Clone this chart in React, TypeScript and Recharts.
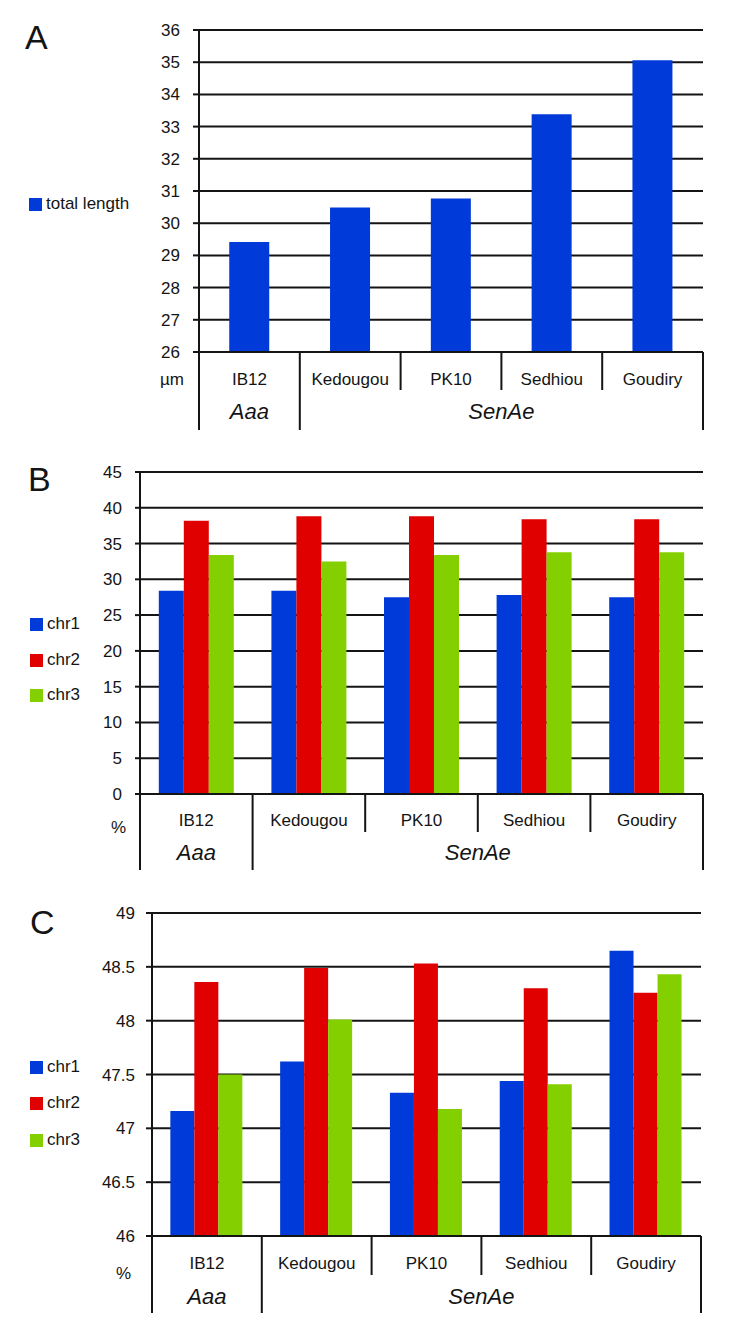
import React from 'react';
import { BarChart, Bar, XAxis, YAxis, CartesianGrid } from 'recharts';

const categories = ['IB12', 'Kedougou', 'PK10', 'Sedhiou', 'Goudiry'];
const groupLabels = ['Aaa', 'SenAe'];
const groupSizes = [1, 4];

const totalLength = [29.42, 30.49, 30.77, 33.38, 35.06];

const pctChr1 = [28.4, 28.4, 27.5, 27.8, 27.5];
const pctChr2 = [38.2, 38.8, 38.8, 38.4, 38.4];
const pctChr3 = [33.4, 32.5, 33.4, 33.8, 33.8];

const gcChr1 = [47.16, 47.62, 47.33, 47.44, 48.65];
const gcChr2 = [48.36, 48.49, 48.53, 48.3, 48.26];
const gcChr3 = [47.5, 48.01, 47.18, 47.41, 48.43];

const ticksA = [26, 27, 28, 29, 30, 31, 32, 33, 34, 35, 36];
const ticksB = [0, 5, 10, 15, 20, 25, 30, 35, 40, 45];
const ticksC = [46, 46.5, 47, 47.5, 48, 48.5, 49];

const seriesNames = ['chr1', 'chr2', 'chr3'];
const BLUE = '#003AD8';
const RED = '#E00000';
const GREEN = '#84CF00';
const INK = '#141414';
const FONT = "'Liberation Sans', Arial, Helvetica, sans-serif";

const dataA = categories.map((c, i) => ({ name: c, total: totalLength[i] }));
const dataB = categories.map((c, i) => ({ name: c, chr1: pctChr1[i], chr2: pctChr2[i], chr3: pctChr3[i] }));
const dataC = categories.map((c, i) => ({ name: c, chr1: gcChr1[i], chr2: gcChr2[i], chr3: gcChr3[i] }));

type TableCfg = {
  unit: string;
  unitDx: number;
  unitDy: number;
  labelDy: number;
  groupDy: number;
  shortH: number;
  fullH: number;
  plotW: number;
};

function makeTableTick(cfg: TableCfg) {
  return (props: any) => {
    const { x, y, payload, index, width, visibleTicksCount } = props;
    const n = visibleTicksCount || categories.length;
    const w = typeof width === 'number' && width > 0 ? width : cfg.plotW;
    const half = w / n / 2;
    const i = payload && typeof payload.index === 'number' ? payload.index : index;
    const starts: number[] = [];
    let acc = 0;
    groupSizes.forEach((s) => {
      starts.push(acc);
      acc += s;
    });
    const gIdx = starts.indexOf(i);
    const isGroupStart = gIdx >= 0;
    const isLast = i === n - 1;
    const lineStyle = { stroke: INK, strokeWidth: 2 };
    return (
      <g>
        <line x1={x - half} x2={x - half} y1={y} y2={y + (isGroupStart ? cfg.fullH : cfg.shortH)} {...lineStyle} />
        {isLast && <line x1={x + half} x2={x + half} y1={y} y2={y + cfg.fullH} {...lineStyle} />}
        <text x={x} y={y + cfg.labelDy} textAnchor="middle" dominantBaseline="central" fill={INK} fontSize={17} fontFamily={FONT}>
          {payload.value}
        </text>
        {isGroupStart && (
          <text
            x={x - half + groupSizes[gIdx] * half}
            y={y + cfg.groupDy}
            textAnchor="middle"
            dominantBaseline="central"
            fill={INK}
            fontSize={22}
            fontStyle="italic"
            fontFamily={FONT}
          >
            {groupLabels[gIdx]}
          </text>
        )}
        {i === 0 && (
          <text x={x - half - cfg.unitDx} y={y + cfg.unitDy} textAnchor="end" dominantBaseline="central" fill={INK} fontSize={17} fontFamily={FONT}>
            {cfg.unit}
          </text>
        )}
      </g>
    );
  };
}

function LegendBox({ items, left, tops }: { items: { label: string; color: string }[]; left: number; tops: number[] }) {
  return (
    <>
      {items.map((it, k) => (
        <div key={it.label} style={{ position: 'absolute', left, top: tops[k], display: 'flex', alignItems: 'center', height: 14 }}>
          <div style={{ width: 13, height: 13, background: it.color, marginRight: 4 }} />
          <span style={{ fontSize: 17, color: INK, fontFamily: FONT, lineHeight: '14px' }}>{it.label}</span>
        </div>
      ))}
    </>
  );
}

function PanelLetter({ ch, left, top }: { ch: string; left: number; top: number }) {
  return (
    <div style={{ position: 'absolute', left, top, fontSize: 34, lineHeight: '34px', color: INK, fontFamily: FONT }}>{ch}</div>
  );
}

const gridProps = { vertical: false, stroke: INK, strokeWidth: 2 };

export default function App() {
  return (
    <div style={{ position: 'absolute', left: 0, top: 0, width: 733, height: 1327, background: '#fff', fontFamily: FONT, overflow: 'hidden' }}>
      {/* Panel A */}
      <div style={{ position: 'absolute', left: 0, top: 0, width: 733, height: 440 }}>
        <BarChart width={733} height={440} data={dataA} margin={{ top: 30, right: 30, bottom: 8, left: 0 }} barCategoryGap="30%">
          <CartesianGrid {...gridProps} />
          <YAxis
            width={199}
            domain={[26, 36]}
            ticks={ticksA}
            interval={0}
            tickSize={6}
            tickMargin={13}
            axisLine={{ stroke: INK, strokeWidth: 2 }}
            tickLine={{ stroke: INK, strokeWidth: 2 }}
            tick={{ fill: INK, fontSize: 17, fontFamily: FONT }}
          />
          <XAxis
            dataKey="name"
            height={80}
            interval={0}
            tickSize={0}
            tickMargin={0}
            tickLine={false}
            axisLine={{ stroke: INK, strokeWidth: 2 }}
            tick={makeTableTick({ unit: 'µm', unitDx: 15, unitDy: 27, labelDy: 27, groupDy: 59, shortH: 38, fullH: 78, plotW: 504 })}
          />
          <Bar dataKey="total" name="total length" fill={BLUE} isAnimationActive={false} />
        </BarChart>
        <PanelLetter ch="A" left={25} top={20} />
        <LegendBox items={[{ label: 'total length', color: BLUE }]} left={29} tops={[197]} />
      </div>

      {/* Panel B */}
      <div style={{ position: 'absolute', left: 0, top: 440, width: 733, height: 440 }}>
        <BarChart width={733} height={440} data={dataB} margin={{ top: 32, right: 30, bottom: 6, left: 0 }} barCategoryGap="16.7%" barGap={0}>
          <CartesianGrid {...gridProps} />
          <YAxis
            width={140}
            domain={[0, 45]}
            ticks={ticksB}
            interval={0}
            tickSize={5}
            tickMargin={13}
            axisLine={{ stroke: INK, strokeWidth: 2 }}
            tickLine={{ stroke: INK, strokeWidth: 2 }}
            tick={{ fill: INK, fontSize: 17, fontFamily: FONT }}
          />
          <XAxis
            dataKey="name"
            height={80}
            interval={0}
            tickSize={0}
            tickMargin={0}
            tickLine={false}
            axisLine={{ stroke: INK, strokeWidth: 2 }}
            tick={makeTableTick({ unit: '%', unitDx: 14, unitDy: 33, labelDy: 26, groupDy: 58, shortH: 38, fullH: 76, plotW: 563 })}
          />
          <Bar dataKey="chr1" name={seriesNames[0]} fill={BLUE} isAnimationActive={false} />
          <Bar dataKey="chr2" name={seriesNames[1]} fill={RED} isAnimationActive={false} />
          <Bar dataKey="chr3" name={seriesNames[2]} fill={GREEN} isAnimationActive={false} />
        </BarChart>
        <PanelLetter ch="B" left={28} top={22} />
        <LegendBox
          items={[
            { label: seriesNames[0], color: BLUE },
            { label: seriesNames[1], color: RED },
            { label: seriesNames[2], color: GREEN },
          ]}
          left={30}
          tops={[177, 213, 248]}
        />
      </div>

      {/* Panel C */}
      <div style={{ position: 'absolute', left: 0, top: 880, width: 733, height: 447 }}>
        <BarChart width={733} height={447} data={dataC} margin={{ top: 33, right: 32, bottom: 11, left: 0 }} barCategoryGap="16.7%" barGap={0}>
          <CartesianGrid {...gridProps} />
          <YAxis
            width={152}
            domain={[46, 49]}
            ticks={ticksC}
            interval={0}
            tickSize={6}
            tickMargin={11}
            axisLine={{ stroke: INK, strokeWidth: 2 }}
            tickLine={{ stroke: INK, strokeWidth: 2 }}
            tick={{ fill: INK, fontSize: 17, fontFamily: FONT }}
          />
          <XAxis
            dataKey="name"
            height={80}
            interval={0}
            tickSize={0}
            tickMargin={0}
            tickLine={false}
            axisLine={{ stroke: INK, strokeWidth: 2 }}
            tick={makeTableTick({ unit: '%', unitDx: 21, unitDy: 37, labelDy: 27, groupDy: 60, shortH: 39, fullH: 77, plotW: 549 })}
          />
          <Bar dataKey="chr1" name={seriesNames[0]} fill={BLUE} isAnimationActive={false} />
          <Bar dataKey="chr2" name={seriesNames[1]} fill={RED} isAnimationActive={false} />
          <Bar dataKey="chr3" name={seriesNames[2]} fill={GREEN} isAnimationActive={false} />
        </BarChart>
        <PanelLetter ch="C" left={30} top={25} />
        <LegendBox
          items={[
            { label: seriesNames[0], color: BLUE },
            { label: seriesNames[1], color: RED },
            { label: seriesNames[2], color: GREEN },
          ]}
          left={30}
          tops={[180, 216, 253]}
        />
      </div>
    </div>
  );
}
